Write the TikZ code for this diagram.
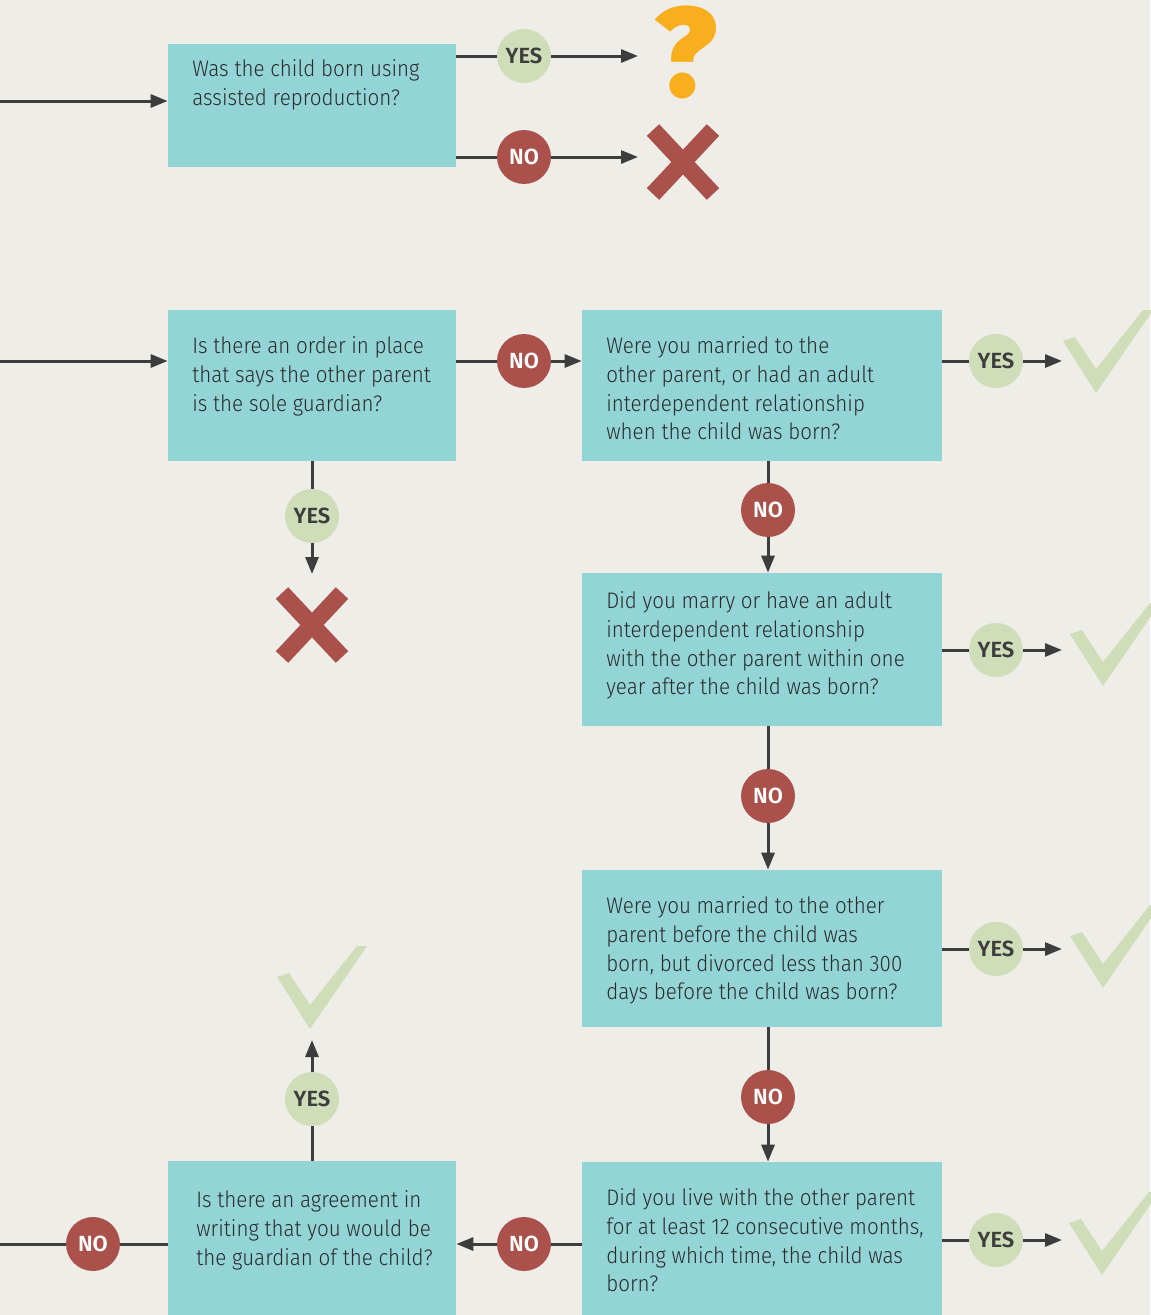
\documentclass[tikz,border=0pt]{standalone}
\usepackage{fontspec}
\setmainfont{Fira Sans}[UprightFont=* Light, BoldFont=* SemiBold, FakeStretch=0.915]
\newfontfamily\badgefont{Fira Sans}[UprightFont=* SemiBold]
\usetikzlibrary{arrows.meta,fit,positioning}
\definecolor{bgc}{HTML}{EEEDE8}
\definecolor{boxc}{HTML}{93D4D6}
\definecolor{yesc}{HTML}{CFDDB8}
\definecolor{noc}{HTML}{A9514A}
\definecolor{qmc}{HTML}{F9AE1D}
\definecolor{linec}{HTML}{3D3D3D}
\definecolor{textc}{HTML}{2B2B2B}
\tikzset{
  qbox/.style={fill=boxc, inner sep=0pt},
  qtext/.style={anchor=north west, inner sep=0pt, align=left, text=textc,
    font=\fontsize{12.8}{16.44}\selectfont},
  yesbadge/.style={circle, fill=yesc, minimum size=1.08cm, inner sep=0pt,
    text=linec, font=\badgefont\fontsize{12.5}{13}\selectfont},
  nobadge/.style={yesbadge, fill=noc, text=white},
  conn/.style={draw=linec, line width=0.06cm},
  arr/.style={conn, -{Triangle[length=0.34cm,width=0.26cm]}},
}
% icons
\newcommand\tickat[1]{\fill[yesc, shift={#1}] (0,0) -- (-33,-52) -- (-21,-56)
  -- (0,-24) -- (47,-83) -- (57,-83) -- cycle;}
\newcommand\crossat[1]{\draw[noc, line width=0.34cm, shift={#1}]
  (-30,-32) -- (30,32) (-30,32) -- (30,-32);}
\begin{document}
\begin{tikzpicture}[x=0.02cm, y=-0.02cm]
  \fill[bgc] (0,0) rectangle (1150,1315);
  \useasboundingbox (0,0) rectangle (1150,1315);

  % question boxes
  \node[qbox, fit={(168,44) (456,167)}] (b1) {};
  \node[qbox, fit={(168,310) (456,461)}] (b2) {};
  \node[qbox, fit={(582,310) (942,461)}] (b3) {};
  \node[qbox, fit={(582,573) (942,726)}] (b4) {};
  \node[qbox, fit={(582,870) (942,1027)}] (b5) {};
  \node[qbox, fit={(582,1162) (942,1315)}] (b6) {};
  \node[qbox, fit={(168,1161) (456,1315)}] (b7) {};

  \node[qtext] (t1) at (192,59) {Was the child born using\\assisted reproduction?};
  \node[qtext] (t2) at (192,336) {Is there an order in place\\that says the other parent\\is the sole guardian?};
  \node[qtext] (t3) at (606,336) {Were you married to the\\other parent, or had an adult\\interdependent relationship\\when the child was born?};
  \node[qtext] (t4) at (606,591) {Did you marry or have an adult\\interdependent relationship\\with the other parent within one\\year after the child was born?};
  \node[qtext] (t5) at (606,896) {Were you married to the other\\parent before the child was\\born, but divorced less than 300\\days before the child was born?};
  \node[qtext] (t6) at (606,1188) {Did you live with the other parent\\for at least 12 consecutive months,\\during which time, the child was\\born?};
  \node[qtext] (t7) at (196,1190) {Is there an agreement in\\writing that you would be\\the guardian of the child?};

  % answers
  \node[yesbadge] (y1) at (524,56) {YES};
  \node[nobadge] (n1) at (524,157) {NO};
  \node[nobadge] (n2) at (524,361) {NO};
  \node[yesbadge] (y2) at (996,361) {YES};
  \node[yesbadge] (y3) at (312,516) {YES};
  \node[nobadge] (n3) at (768,510) {NO};
  \node[yesbadge] (y4) at (996,650) {YES};
  \node[nobadge] (n4) at (768,796) {NO};
  \node[yesbadge] (y5) at (996,949) {YES};
  \node[nobadge] (n5) at (768,1097) {NO};
  \node[yesbadge] (y6) at (996,1240) {YES};
  \node[nobadge] (n6) at (524,1244) {NO};
  \node[yesbadge] (y7) at (312,1099) {YES};
  \node[nobadge] (n7) at (93,1244) {NO};

  \node[text=qmc, inner sep=0pt, font=\badgefont\fontsize{72}{72}\selectfont\bfseries] (qm) at (686,52) {?};

  \coordinate (in1) at (0,101);
  \coordinate (in2) at (0,361);
  \coordinate (out1) at (0,1244);
  \coordinate (e1) at (638,56);
  \coordinate (e2) at (638,157);
  \coordinate (e3) at (312,574);
  \coordinate (k1) at (1062,361);
  \coordinate (k2) at (1062,650);
  \coordinate (k3) at (1062,949);
  \coordinate (k4) at (1062,1240);
  \coordinate (k5) at (312,1040);

  % connectors
  \draw[arr] (in1) -- (in1 -| b1.west);
  \draw[conn] (b1.east |- y1) -- (y1);
  \draw[arr] (y1) -- (e1);
  \draw[conn] (b1.east |- n1) -- (n1);
  \draw[arr] (n1) -- (e2);
  \draw[arr] (in2) -- (in2 -| b2.west);
  \draw[conn] (b2.east |- n2) -- (n2);
  \draw[arr] (n2) -- (n2 -| b3.west);
  \draw[conn] (b2.south -| y3) -- (y3);
  \draw[arr] (y3) -- (e3);
  \draw[conn] (b3.east |- y2) -- (y2);
  \draw[arr] (y2) -- (k1);
  \draw[conn] (b3.south -| n3) -- (n3);
  \draw[arr] (n3) -- (n3 |- b4.north);
  \draw[conn] (b4.east |- y4) -- (y4);
  \draw[arr] (y4) -- (k2);
  \draw[conn] (b4.south -| n4) -- (n4);
  \draw[arr] (n4) -- (n4 |- b5.north);
  \draw[conn] (b5.east |- y5) -- (y5);
  \draw[arr] (y5) -- (k3);
  \draw[conn] (b5.south -| n5) -- (n5);
  \draw[arr] (n5) -- (n5 |- b6.north);
  \draw[conn] (b6.east |- y6) -- (y6);
  \draw[arr] (y6) -- (k4);
  \draw[conn] (b6.west |- n6) -- (n6);
  \draw[arr] (n6) -- (n6 -| b7.east);
  \draw[conn] (b7.north -| y7) -- (y7);
  \draw[arr] (y7) -- (k5);
  \draw[conn] (b7.west |- n7) -- (n7) -- (out1);

  % outcomes
  \crossat{(683,162)}
  \crossat{(312,625)}
  \tickat{(1096,393)}
  \tickat{(1103,686)}
  \tickat{(1103,988)}
  \tickat{(1102,1275)}
  \tickat{(310,1029)}
\end{tikzpicture}
\end{document}
